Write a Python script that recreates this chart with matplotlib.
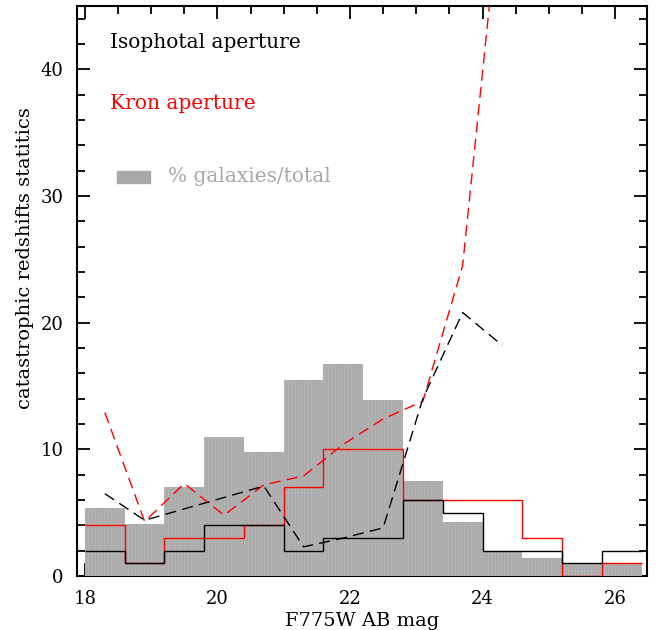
import matplotlib
matplotlib.use("Agg")
import matplotlib.pyplot as plt
import numpy as np

plt.rcParams['font.family'] = ['DejaVu Serif']
plt.rcParams['lines.scale_dashes'] = False
plt.rcParams['hatch.linewidth'] = 0.6

# ---- data ----
bin_edges = [18.0, 18.6, 19.2, 19.8, 20.4, 21.0, 21.6, 22.2, 22.8, 23.4, 24.0, 24.6, 25.2, 25.8, 26.4]
gal_pct = [5.4, 4.1, 7.0, 11.0, 9.8, 15.5, 16.7, 13.9, 7.5, 4.3, 1.9, 1.4, 1.0, 1.0]
iso_counts = [2, 1, 2, 4, 4, 2, 3, 3, 6, 5, 2, 2, 1, 2]
kron_counts = [4, 1, 3, 3, 4, 7, 10, 10, 6, 6, 6, 3, 0, 1]
bin_centers = [18.3, 18.9, 19.5, 20.1, 20.7, 21.3, 21.9, 22.5, 23.1, 23.7, 24.3]
iso_frac = [6.5, 4.4, 5.3, 6.2, 7.1, 2.3, 3.0, 3.8, 14.0, 20.8, 18.2]
kron_frac = [12.9, 4.3, 7.3, 4.8, 7.2, 7.9, 10.4, 12.4, 13.8, 24.5, 55.0]

xticks = [18, 20, 22, 24, 26]
yticks = [0, 10, 20, 30, 40]

fig = plt.figure(figsize=(6.59, 6.30), dpi=100)
ax = fig.add_axes([0.1176, 0.0857, 0.9818 - 0.1176, 0.9905 - 0.0857])

edges = np.array(bin_edges)
ax.bar(edges[:-1], gal_pct, width=np.diff(edges), align='edge',
       color='#acacac', edgecolor='#b6b6b6', hatch='|||||', linewidth=0, zorder=3)

ax.stairs(kron_counts, edges, baseline=None, color='#ff0000', linewidth=1.0, zorder=4)
ax.stairs(iso_counts, edges, baseline=None, color='black', linewidth=1.0, zorder=4)

ax.plot(bin_centers, kron_frac, color='#ff0000', linewidth=1.0, dashes=(8, 4.5), zorder=5)
ax.plot(bin_centers, iso_frac, color='black', linewidth=1.0, dashes=(8, 4.5), zorder=5)

ax.set_xlim(17.887, 26.483)
ax.set_ylim(0, 45)
ax.set_xticks(xticks)
ax.set_yticks(yticks)
ax.set_xticks(np.arange(18, 26.5, 0.5), minor=True)
ax.set_yticks(np.arange(0, 45, 2), minor=True)
ax.tick_params(which='both', direction='in', top=True, right=True, width=1.3)
ax.tick_params(which='major', length=9.5, labelsize=13, pad=10)
ax.tick_params(which='minor', length=5.5)
for s in ax.spines.values():
    s.set_linewidth(1.5)

ax.set_xlabel('F775W AB mag', fontsize=14, labelpad=3)
ax.set_ylabel('catastrophic redshifts statitics', fontsize=14)
ax.yaxis.set_label_coords(-0.076, 0.558)

ax.text(18.38, 42.1, 'Isophotal aperture', color='black', fontsize=14.5, va='center', ha='left')
ax.text(18.38, 37.3, 'Kron aperture', color='#ff0000', fontsize=14.5, va='center', ha='left')
ax.add_patch(plt.Rectangle((18.48, 31.05), 0.5, 0.95, color='#a8a8a8', zorder=3))
ax.text(19.25, 31.5, '% galaxies/total', color='#a8a8a8', fontsize=14.5, va='center', ha='left')

fig.savefig('out.png', dpi=100)
